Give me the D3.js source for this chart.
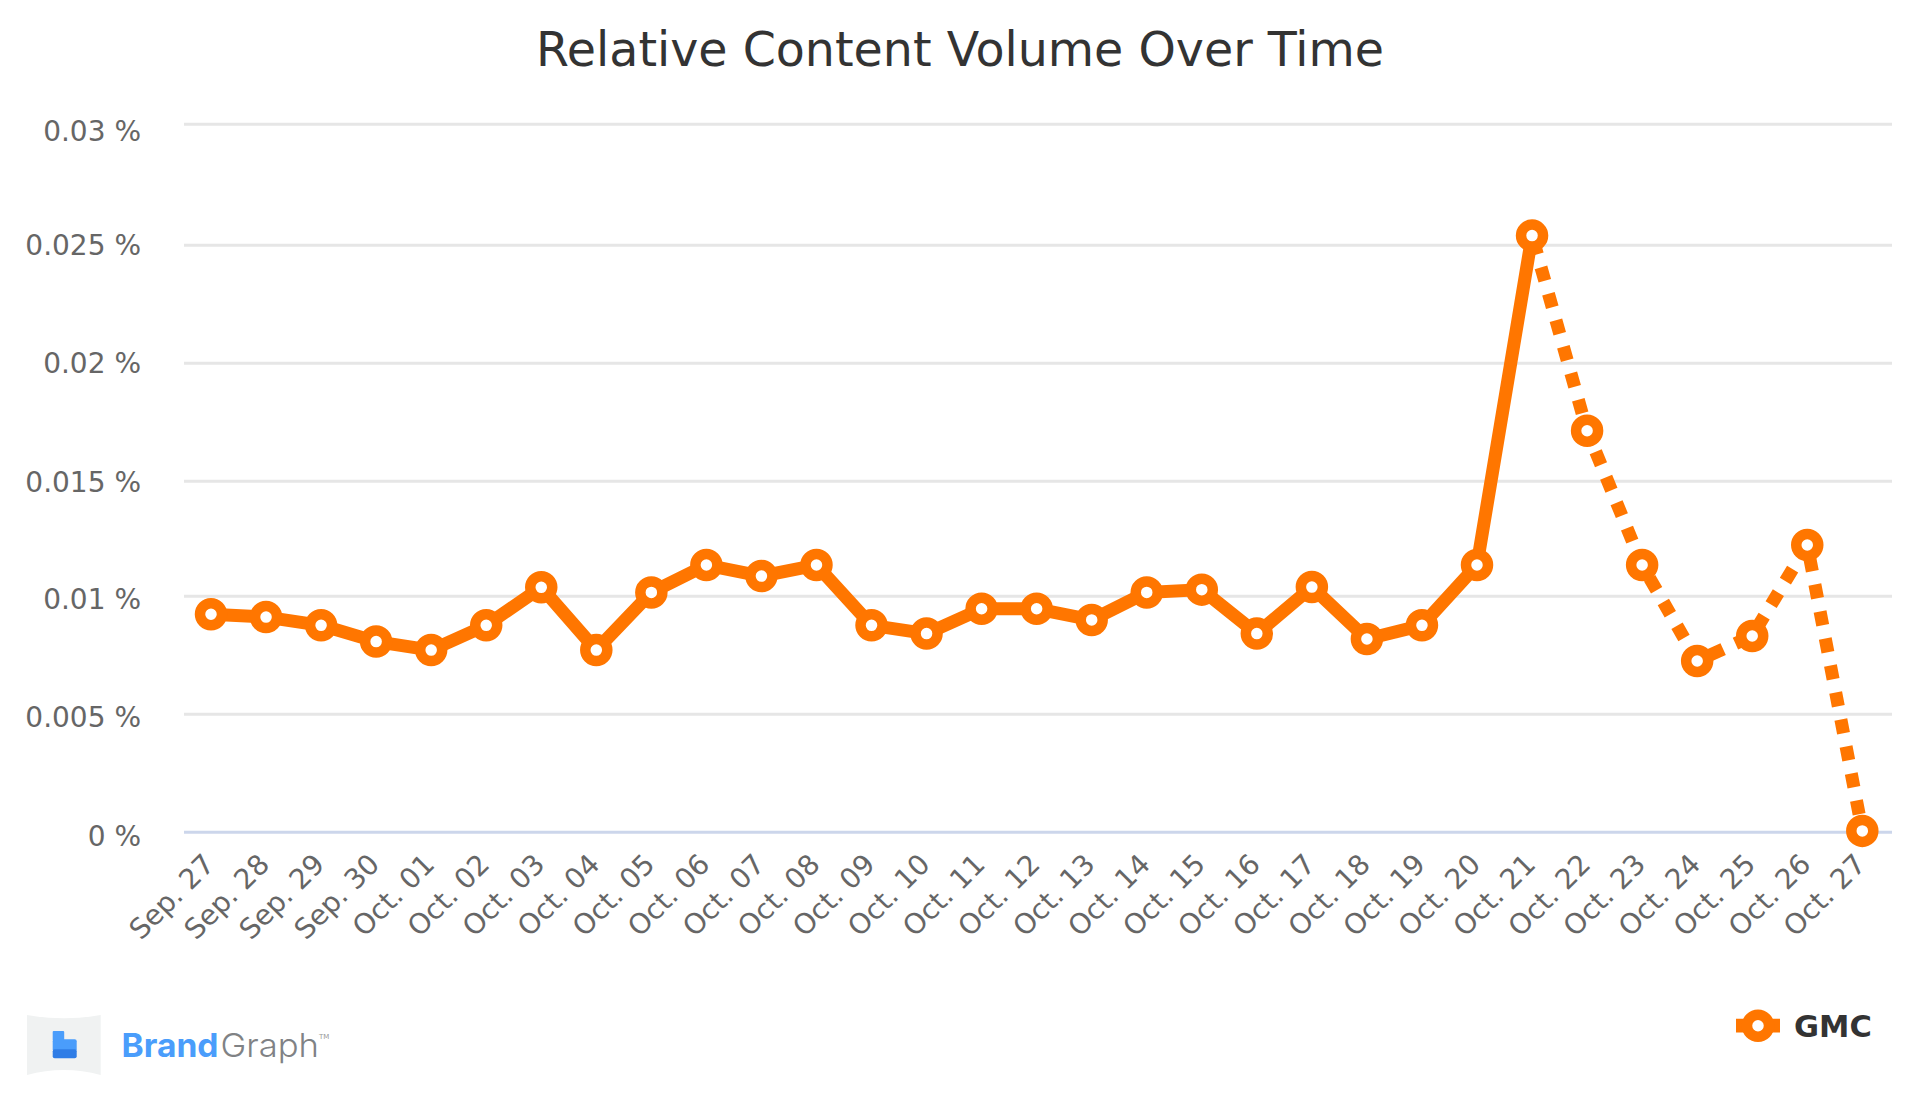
<!DOCTYPE html>
<html>
<head>
<meta charset="utf-8">
<script src="https://cdn.jsdelivr.net/npm/d3@7"></script>
<style>
  html, body { margin: 0; padding: 0; background: #fff; }
  svg { display: block; font-family: "DejaVu Sans", sans-serif; }
</style>
</head>
<body>
<svg id="chart" width="1920" height="1097"></svg>
<script>
const dates = ['Sep. 27','Sep. 28','Sep. 29','Sep. 30','Oct. 01','Oct. 02','Oct. 03','Oct. 04','Oct. 05','Oct. 06','Oct. 07','Oct. 08','Oct. 09','Oct. 10','Oct. 11','Oct. 12','Oct. 13','Oct. 14','Oct. 15','Oct. 16','Oct. 17','Oct. 18','Oct. 19','Oct. 20','Oct. 21','Oct. 22','Oct. 23','Oct. 24','Oct. 25','Oct. 26','Oct. 27'];
const volume = [0.00924,0.00912,0.00877,0.00808,0.00772,0.00877,0.01039,0.00772,0.01017,0.01136,0.01088,0.01136,0.00877,0.00842,0.00947,0.00947,0.009,0.01017,0.01029,0.00842,0.0104,0.00819,0.00877,0.01136,0.0254,0.01714,0.01136,0.00726,0.00832,0.01223,0.00006];
const yTicks = [0,0.005,0.01,0.015,0.02,0.025,0.03];
const yLabels = ['0 %','0.005 %','0.01 %','0.015 %','0.02 %','0.025 %','0.03 %'];
const lastSolid = 24; // Oct. 21, dotted after this one

const orange = '#ff7600';
const svg = d3.select('#chart');

const x = d3.scalePoint().domain(dates).range([211, 1862.3]);
// grid lines in the picture are not evenly spaced, so the scale is piecewise
const y = d3.scaleLinear()
    .domain([0, 0.01, 0.015, 0.025, 0.03])
    .range([832.3, 596.3, 481.3, 245.3, 124.3]);

svg.append('text')
    .attr('x', 960).attr('y', 66)
    .attr('text-anchor', 'middle')
    .attr('font-size', 47.5)
    .attr('fill', '#333')
    .text('Relative Content Volume Over Time');

// grid lines
svg.append('g').selectAll('line')
    .data(yTicks)
    .enter()
    .append('line')
    .attr('x1', 184).attr('x2', 1892)
    .attr('y1', d => y(d)).attr('y2', d => y(d))
    .attr('stroke', d => d === 0 ? '#ccd6eb' : '#e6e6e6')
    .attr('stroke-width', 3);

// y labels, baseline offset from each grid line
const labelDy = [13.4, 13, 13, 10.5, 10, 10, 16.4];
svg.append('g').selectAll('text')
    .data(yTicks)
    .enter()
    .append('text')
    .attr('x', 141)
    .attr('y', (d, i) => y(d) + labelDy[i])
    .attr('text-anchor', 'end')
    .attr('font-size', 28)
    .attr('fill', '#666')
    .text((d, i) => yLabels[i]);

// x labels
svg.append('g').selectAll('text')
    .data(dates)
    .enter()
    .append('text')
    .attr('text-anchor', 'end')
    .attr('font-size', 28)
    .attr('fill', '#666')
    .attr('transform', d => `translate(${x(d) + 5},${866}) rotate(-45)`)
    .text(d => d);

const line = d3.line().x(d => x(d.date)).y(d => y(d.value));
const points = dates.map((d, i) => ({ date: d, value: volume[i] }));

svg.append('path')
    .datum(points.slice(0, lastSolid + 1))
    .attr('d', line)
    .attr('fill', 'none')
    .attr('stroke', orange)
    .attr('stroke-width', 13)
    .attr('stroke-linejoin', 'round');

svg.append('path')
    .datum(points.slice(lastSolid))
    .attr('d', line)
    .attr('fill', 'none')
    .attr('stroke', orange)
    .attr('stroke-width', 13)
    .attr('stroke-dasharray', '14,13.5')
    .attr('stroke-dashoffset', -5.5);

svg.append('g').selectAll('circle')
    .data(points)
    .enter()
    .append('circle')
    .attr('cx', d => x(d.date))
    .attr('cy', d => y(d.value))
    .attr('r', 11)
    .attr('fill', '#fff')
    .attr('stroke', orange)
    .attr('stroke-width', 10.5);

// legend
const legend = svg.append('g').attr('transform', 'translate(1758,1025.7)');
legend.append('line').attr('x1', -22).attr('x2', 22)
    .attr('stroke', orange).attr('stroke-width', 13.7);
legend.append('circle').attr('r', 11)
    .attr('fill', '#fff').attr('stroke', orange).attr('stroke-width', 10.5);
legend.append('text')
    .attr('x', 36).attr('y', 11)
    .attr('font-size', 30.5).attr('font-weight', 'bold')
    .attr('fill', '#333')
    .text('GMC');

// logo
const logo = svg.append('g');
logo.append('path')
    .attr('d', 'M27,1015 Q64,1021.6 100.7,1015 L100.7,1075 Q64,1065 27,1075 Z')
    .attr('fill', '#f0f2f2');
logo.append('rect').attr('x', 52.7).attr('y', 1031).attr('width', 11.5).attr('height', 10).attr('rx', 1).attr('fill', '#4a9dfb');
logo.append('rect').attr('x', 52.7).attr('y', 1039.3).attr('width', 24).attr('height', 12).attr('rx', 2).attr('fill', '#4a9dfb');
logo.append('rect').attr('x', 52.7).attr('y', 1049.3).attr('width', 24).attr('height', 9).attr('rx', 2).attr('fill', '#2f7de6');
logo.append('text')
    .attr('x', 121.5).attr('y', 1057)
    .attr('font-family', 'Inter, sans-serif')
    .attr('font-size', 33).attr('font-weight', 700)
    .attr('fill', '#4a9dfb')
    .attr('textLength', 97).attr('lengthAdjust', 'spacingAndGlyphs')
    .text('Brand');
logo.append('text')
    .attr('x', 220.5).attr('y', 1057)
    .attr('font-family', 'Inter, sans-serif')
    .attr('font-size', 33).attr('font-weight', 300)
    .attr('fill', '#808285')
    .attr('textLength', 98.5).attr('lengthAdjust', 'spacingAndGlyphs')
    .text('Graph');
logo.append('text')
    .attr('x', 319).attr('y', 1038.5)
    .attr('font-size', 7)
    .attr('fill', '#999')
    .text('TM');
</script>
</body>
</html>
